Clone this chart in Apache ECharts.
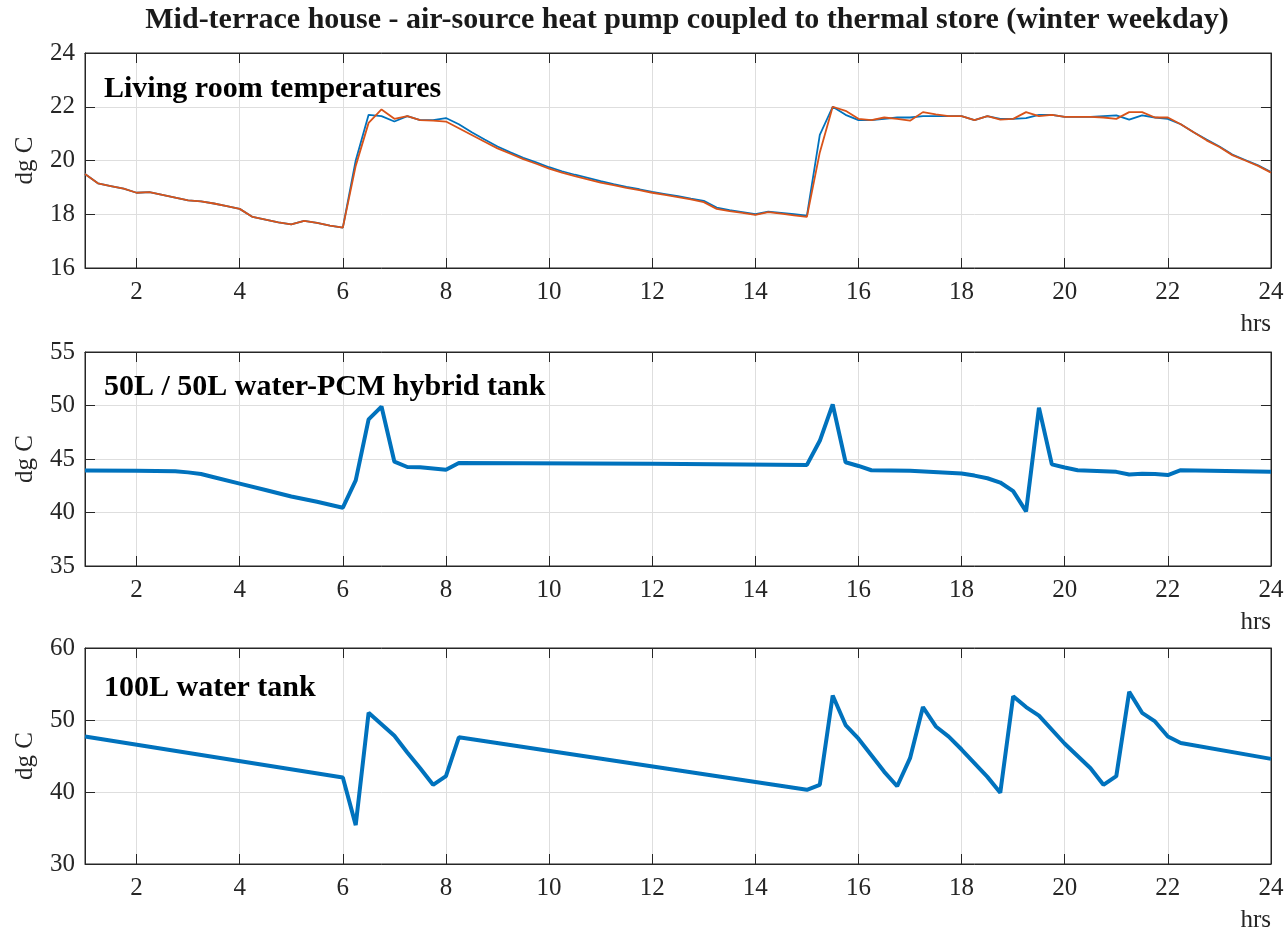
<!DOCTYPE html>
<html>
<head>
<meta charset="utf-8">
<script src="https://cdn.jsdelivr.net/npm/echarts@6/dist/echarts.min.js"></script>
<style>
html,body{margin:0;padding:0;background:#fff;}
#c{width:1287px;height:933px;}
</style>
</head>
<body>
<div id="c"></div>
<script>
// ---------- DATA ----------
const chartTitle = 'Mid-terrace house - air-source heat pump coupled to thermal store (winter weekday)';
const panelLabels = ['Living room temperatures', '50L / 50L water-PCM hybrid tank', '100L water tank'];
const xTicks = [2, 4, 6, 8, 10, 12, 14, 16, 18, 20, 22, 24];

// Panel 1: living room temperatures (15-min steps)
const hoursLiving = [1,1.25,1.5,1.75,2,2.25,2.5,2.75,3,3.25,3.5,3.75,4,4.25,4.5,4.75,5,5.25,5.5,5.75,6,
  6.25,6.5,6.75,7,7.25,7.5,7.75,8,
  8.25,8.5,8.75,9,9.25,9.5,9.75,10,10.25,10.5,10.75,11,11.25,11.5,11.75,12,12.25,12.5,12.75,13,13.25,13.5,13.75,14,14.25,14.5,14.75,15,
  15.25,15.5,15.75,16,16.25,16.5,16.75,17,17.25,17.5,17.75,18,18.25,18.5,18.75,19,19.25,19.5,19.75,20,20.25,20.5,20.75,21,21.25,21.5,21.75,22,
  22.25,22.5,22.75,23,23.25,23.5,23.75,24];
const livingBlue = [19.5,19.15,19.05,18.95,18.8,18.82,18.72,18.62,18.52,18.48,18.4,18.3,18.2,17.9,17.8,17.7,17.62,17.75,17.68,17.58,17.5,
  20.0,21.7,21.65,21.45,21.65,21.5,21.5,21.58,
  21.35,21.05,20.78,20.52,20.3,20.1,19.93,19.75,19.6,19.47,19.35,19.23,19.12,19.02,18.93,18.83,18.75,18.67,18.58,18.5,18.25,18.15,18.08,18.0,18.1,18.05,18.0,17.95,
  20.95,22.0,21.7,21.5,21.5,21.55,21.6,21.6,21.65,21.65,21.65,21.65,21.5,21.65,21.55,21.55,21.58,21.7,21.7,21.62,21.62,21.62,21.65,21.68,21.52,21.68,21.6,21.55,
  21.35,21.05,20.78,20.52,20.22,20.02,19.82,19.57];
const livingOrange = [19.5,19.15,19.05,18.95,18.8,18.82,18.72,18.62,18.52,18.48,18.4,18.3,18.2,17.9,17.8,17.7,17.62,17.75,17.68,17.58,17.5,
  19.8,21.4,21.9,21.55,21.65,21.5,21.48,21.45,
  21.2,20.95,20.7,20.45,20.25,20.05,19.88,19.7,19.55,19.42,19.3,19.18,19.08,18.98,18.9,18.8,18.72,18.64,18.55,18.45,18.2,18.12,18.05,17.98,18.08,18.02,17.96,17.9,
  20.3,22.0,21.85,21.55,21.5,21.6,21.55,21.48,21.8,21.72,21.65,21.65,21.5,21.65,21.52,21.55,21.8,21.65,21.7,21.62,21.62,21.62,21.6,21.55,21.8,21.8,21.6,21.6,
  21.35,21.05,20.75,20.5,20.2,20.0,19.8,19.55];

// Panel 2: 50L/50L water-PCM hybrid tank
const hoursHybrid = [1,2,2.75,3,3.25,3.5,4,4.5,5,5.5,6,6.25,6.5,6.75,7,7.25,7.5,8,8.25,12,15,15.25,15.5,15.75,16,16.25,17,18,18.25,18.5,18.75,19,19.25,19.5,19.75,20,20.25,21,21.25,21.5,21.75,22,22.25,24];
const tempHybrid = [43.92,43.9,43.85,43.75,43.6,43.3,42.7,42.1,41.5,41.0,40.45,43.0,48.7,49.9,44.75,44.25,44.22,44.0,44.62,44.55,44.45,46.7,50.1,44.7,44.35,43.95,43.9,43.65,43.45,43.2,42.8,42.0,40.1,49.8,44.5,44.2,43.95,43.8,43.55,43.62,43.6,43.5,43.95,43.82];

// Panel 3: 100L water tank
const hoursWater = [1,6,6.25,6.5,6.75,7,7.25,7.5,7.75,8,8.25,15,15.25,15.5,15.75,16,16.5,16.75,17,17.25,17.5,17.75,18,18.5,18.75,19,19.25,19.5,20,20.5,20.75,21,21.25,21.5,21.75,22,22.25,24];
const tempWater = [47.7,42.0,35.4,51.0,49.4,47.8,45.5,43.3,41.0,42.2,47.6,40.3,41.0,53.4,49.3,47.4,42.8,40.8,44.7,51.8,49.1,47.7,45.9,42.1,39.9,53.3,51.8,50.6,46.7,43.3,41.0,42.2,53.9,51.0,49.8,47.7,46.8,44.6];

// ---------- CHART ----------
const FONT = "'Liberation Serif', 'Times New Roman', serif";
const BLUE = '#0072BD', ORANGE = '#D95319';
const AXC = '#262626', GRIDC = '#dedede';
const TICKFS = 25;

function zip(xs, ys) { return xs.map((x, i) => [x, ys[i]]); }

const grids = [
  {left: 85, top: 53, width: 1186, height: 215},
  {left: 85, top: 352, width: 1186, height: 214},
  {left: 85, top: 648, width: 1186, height: 216}
].map(g => Object.assign(g, {show: true, borderColor: AXC, borderWidth: 1, containLabel: false}));

const yRanges = [[16, 24, 2], [35, 55, 5], [30, 60, 10]];

const xAxes = [], yAxes = [];
for (let i = 0; i < 3; i++) {
  xAxes.push({
    gridIndex: i, type: 'value', min: 1, max: 24, position: 'bottom',
    name: 'hrs', nameLocation: 'end', nameGap: 0,
    nameTextStyle: {fontFamily: FONT, fontSize: TICKFS, color: AXC, align: 'right', verticalAlign: 'top', padding: [44, 0, 0, 0]},
    axisLine: {show: true, lineStyle: {color: AXC, width: 1}},
    axisTick: {show: true, inside: true, length: 10, customValues: xTicks, lineStyle: {color: AXC, width: 1}},
    axisLabel: {show: true, customValues: xTicks, fontFamily: FONT, fontSize: TICKFS, color: AXC, margin: 12},
    splitLine: {show: true, lineStyle: {color: GRIDC, width: 1}}
  });
  xAxes.push({
    gridIndex: i, type: 'value', min: 1, max: 24, position: 'top',
    axisLine: {show: true, lineStyle: {color: AXC, width: 1}},
    axisTick: {show: true, inside: true, length: 10, customValues: xTicks, lineStyle: {color: AXC, width: 1}},
    axisLabel: {show: false},
    splitLine: {show: false}
  });
  const [mn, mx, iv] = yRanges[i];
  yAxes.push({
    gridIndex: i, type: 'value', min: mn, max: mx, interval: iv, position: 'left',
    name: 'dg C', nameLocation: 'middle', nameGap: 47, nameRotate: 90,
    nameTextStyle: {fontFamily: FONT, fontSize: TICKFS, color: AXC},
    axisLine: {show: true, lineStyle: {color: AXC, width: 1}},
    axisTick: {show: true, inside: true, length: 10, lineStyle: {color: AXC, width: 1}},
    axisLabel: {show: true, fontFamily: FONT, fontSize: TICKFS, color: AXC, margin: 10},
    splitLine: {show: true, lineStyle: {color: GRIDC, width: 1}}
  });
  yAxes.push({
    gridIndex: i, type: 'value', min: mn, max: mx, interval: iv, position: 'right',
    axisLine: {show: true, lineStyle: {color: AXC, width: 1}},
    axisTick: {show: true, inside: true, length: 10, lineStyle: {color: AXC, width: 1}},
    axisLabel: {show: false},
    splitLine: {show: false}
  });
}

const labelTops = [74, 372, 673];
const titles = [];
panelLabels.forEach((t, i) => titles.push({
  text: t, left: 104, top: labelTops[i], padding: 0,
  textStyle: {fontFamily: FONT, fontWeight: 'bold', fontSize: 30, color: '#000'}
}));

const lineBase = {type: 'line', showSymbol: false, symbol: 'none', animation: false, clip: true};
const series = [
  Object.assign({}, lineBase, {name: 'blue', xAxisIndex: 0, yAxisIndex: 0, data: zip(hoursLiving, livingBlue), lineStyle: {color: BLUE, width: 1.8}}),
  Object.assign({}, lineBase, {name: 'orange', xAxisIndex: 0, yAxisIndex: 0, data: zip(hoursLiving, livingOrange), lineStyle: {color: ORANGE, width: 1.8}}),
  Object.assign({}, lineBase, {name: 'hybrid', xAxisIndex: 2, yAxisIndex: 2, data: zip(hoursHybrid, tempHybrid), lineStyle: {color: BLUE, width: 4}}),
  Object.assign({}, lineBase, {name: 'water', xAxisIndex: 4, yAxisIndex: 4, data: zip(hoursWater, tempWater), lineStyle: {color: BLUE, width: 4}})
];

const chart = echarts.init(document.getElementById('c'), null, {renderer: 'canvas'});
chart.setOption({
  backgroundColor: '#fff',
  animation: false,
  title: titles,
  graphic: [{
    type: 'text', x: 687, y: 5,
    style: {text: chartTitle, align: 'center', verticalAlign: 'top', fill: '#1a1a1a', font: "bold 30px 'Liberation Serif', 'Times New Roman', serif"}
  }],
  grid: grids,
  xAxis: xAxes,
  yAxis: yAxes,
  series: series
});
</script>
</body>
</html>
